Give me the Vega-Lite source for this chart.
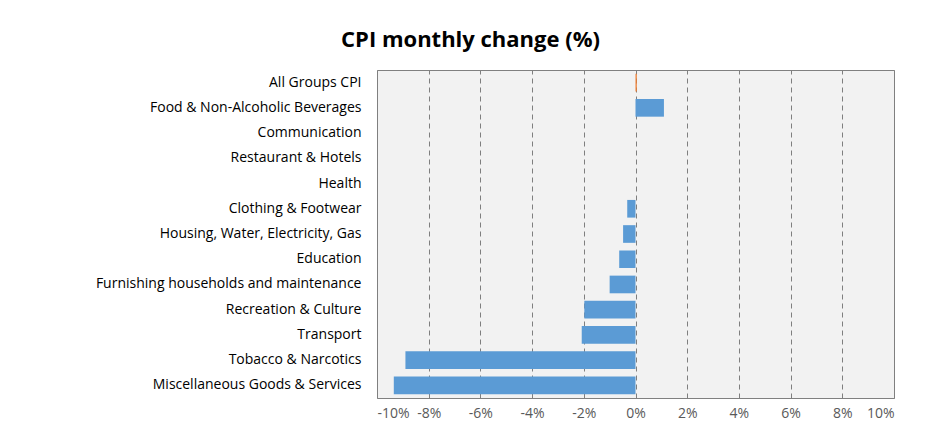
{
  "$schema": "https://vega.github.io/schema/vega-lite/v6.json",
  "autosize": "none",
  "width": 517,
  "height": 328,
  "padding": {"left": 377, "top": 70, "right": 48, "bottom": 42},
  "background": "white",
  "title": {"text": "CPI monthly change (%)", "font": "Open Sans", "fontSize": 22, "fontWeight": "bold", "color": "black", "offset": 18, "anchor": "middle", "dx": -165},
  "data": {
    "values": [
      {"cat": "All Groups CPI", "v": 0.05, "g": "all"},
      {"cat": "Food & Non-Alcoholic Beverages", "v": 1.1, "g": "x"},
      {"cat": "Communication", "v": 0, "g": "x"},
      {"cat": "Restaurant & Hotels", "v": 0, "g": "x"},
      {"cat": "Health", "v": 0, "g": "x"},
      {"cat": "Clothing & Footwear", "v": -0.32, "g": "x"},
      {"cat": "Housing, Water, Electricity, Gas", "v": -0.48, "g": "x"},
      {"cat": "Education", "v": -0.63, "g": "x"},
      {"cat": "Furnishing households and maintenance", "v": -1.0, "g": "x"},
      {"cat": "Recreation & Culture", "v": -1.98, "g": "x"},
      {"cat": "Transport", "v": -2.08, "g": "x"},
      {"cat": "Tobacco & Narcotics", "v": -8.9, "g": "x"},
      {"cat": "Miscellaneous Goods & Services", "v": -9.35, "g": "x"}
    ]
  },
  "mark": {"type": "bar"},
  "encoding": {
    "y": {"field": "cat", "type": "nominal", "sort": null, "title": null,
      "scale": {"paddingInner": 0.3, "paddingOuter": 0.15},
      "axis": {"labelFont": "Open Sans", "labelFontSize": 14, "labelColor": "black", "ticks": false, "domain": false, "labelPadding": 16, "labelLimit": 400}},
    "x": {"field": "v", "type": "quantitative", "title": null,
      "scale": {"domain": [-10, 10], "nice": false},
      "axis": {"values": [-10, -8, -6, -4, -2, 0, 2, 4, 6, 8, 10], "labelExpr": "datum.value + '%'", "labelFont": "Open Sans", "labelFontSize": 14, "labelColor": "#595959", "ticks": false, "domain": false, "labelPadding": 8, "grid": true, "gridDash": [5, 4], "gridColor": "#7f7f7f", "gridWidth": 1}},
    "color": {"field": "g", "type": "nominal", "legend": null, "scale": {"domain": ["all", "x"], "range": ["#ed7d31", "#5b9bd5"]}}
  },
  "config": {"view": {"fill": "#f2f2f2", "stroke": "#808080", "strokeWidth": 1}}
}
